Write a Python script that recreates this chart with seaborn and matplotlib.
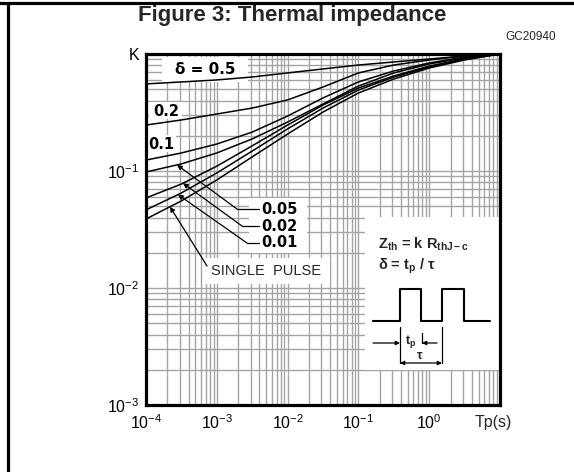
import numpy as np
import pandas as pd
import matplotlib
matplotlib.use("Agg")
import matplotlib.pyplot as plt
import seaborn as sns
from matplotlib.lines import Line2D
from matplotlib.patches import Rectangle, FancyArrowPatch

# ---- data ----
tp = [1e-4, 3.16e-4, 1e-3, 3.16e-3, 1e-2, 3.16e-2, 1e-1, 3.16e-1, 1.0, 3.16, 10.0]
k_d050 = [0.555, 0.577, 0.600, 0.636, 0.689, 0.745, 0.805, 0.855, 0.906, 0.962, 1.0]
k_d020 = [0.247, 0.273, 0.307, 0.345, 0.405, 0.522, 0.689, 0.805, 0.889, 0.962, 1.0]
k_d010 = [0.124, 0.1426, 0.170, 0.215, 0.295, 0.421, 0.577, 0.716, 0.838, 0.942, 1.0]
k_d005 = [0.098, 0.115, 0.1426, 0.188, 0.262, 0.374, 0.532, 0.689, 0.822, 0.925, 1.0]
k_d002 = [0.0588, 0.0774, 0.110, 0.164, 0.247, 0.366, 0.512, 0.649, 0.789, 0.906, 1.0]
k_d001 = [0.0465, 0.0649, 0.0962, 0.148, 0.229, 0.345, 0.492, 0.635, 0.774, 0.906, 1.0]
k_single = [0.0389, 0.0555, 0.0838, 0.132, 0.207, 0.319, 0.464, 0.611, 0.759, 0.889, 1.0]

series_names = ["0.5", "0.2", "0.1", "0.05", "0.02", "0.01", "single"]
series_vals = [k_d050, k_d020, k_d010, k_d005, k_d002, k_d001, k_single]

x_ticks = [1e-4, 1e-3, 1e-2, 1e-1, 1e0]
x_ticklabels = [r"$\mathdefault{10^{-4}}$", r"$\mathdefault{10^{-3}}$", r"$\mathdefault{10^{-2}}$",
                r"$\mathdefault{10^{-1}}$", r"$\mathdefault{10^{0}}$"]
y_ticks = [1e-3, 1e-2, 1e-1, 1e0]
y_ticklabels = [r"$\mathdefault{10^{-3}}$", r"$\mathdefault{10^{-2}}$", r"$\mathdefault{10^{-1}}$", "K"]

df = pd.DataFrame({
    "tp": np.tile(tp, len(series_names)),
    "k": np.concatenate(series_vals),
    "delta": np.repeat(series_names, len(tp)),
})

sns.set_theme(style="white")
plt.rcParams['font.family'] = ['Liberation Sans', 'DejaVu Sans']
plt.rcParams['mathtext.fontset'] = 'custom'
plt.rcParams['mathtext.rm'] = 'Liberation Sans'
plt.rcParams['mathtext.it'] = 'Liberation Sans:italic'
plt.rcParams['mathtext.bf'] = 'Liberation Sans:bold'

W, H = 574, 472
fig = plt.figure(figsize=(W / 100, H / 100), dpi=100)
fig.patch.set_facecolor("white")

def FX(px):
    return px / W

def FY(py):
    return 1 - py / H

ax = fig.add_axes([FX(146), FY(405), (500 - 146) / W, (405 - 54) / H])
sns.lineplot(data=df, x="tp", y="k", units="delta", estimator=None, color="black",
             lw=1.1, ax=ax, legend=False, zorder=3)
ax.set_xscale("log")
ax.set_yscale("log")
ax.set_xlim(1e-4, 10)
ax.set_ylim(1e-3, 1)
ax.set_xlabel("")
ax.set_ylabel("")
ax.grid(which="both", color="#a4a4a4", lw=1.0)
ax.set_axisbelow(True)
for s in ax.spines.values():
    s.set_color("black")
    s.set_linewidth(2.3)
    s.set_zorder(6)
ax.set_xticks(x_ticks)
ax.set_xticklabels(x_ticklabels)
ax.set_yticks(y_ticks)
ax.set_yticklabels(y_ticklabels)
ax.tick_params(which="both", length=0, labelsize=11.5, colors="black")
ax.tick_params(axis="x", pad=6)
ax.tick_params(axis="y", pad=5)

TF = fig.transFigure

def ftext(px, py, s, **kw):
    return ax.text(FX(px), FY(py), s, transform=TF, clip_on=False, **kw)

def fline(pxs, pys, lw=0.9, z=5):
    ax.add_line(Line2D([FX(p) for p in pxs], [FY(p) for p in pys], transform=TF,
                       color="black", lw=lw, zorder=z, clip_on=False))

def frect(x0, y0, x1, y1):
    ax.add_patch(Rectangle((FX(x0), FY(y1)), (x1 - x0) / W, (y1 - y0) / H, transform=TF,
                           facecolor="white", edgecolor="none", zorder=2, clip_on=False))

ftext(493, 422, "Tp(s)", fontsize=11.5, ha="center", va="center")

# title and code
fig.text(FX(292), FY(15), "Figure 3: Thermal impedance", fontsize=16, fontweight="bold",
         ha="center", va="center")
fig.text(FX(531), FY(37), "GC20940", fontsize=8.5, ha="center", va="center")

# outer frame
fig.add_artist(Line2D([0, 1], [FY(3), FY(3)], transform=TF, color="black", lw=2.3))
fig.add_artist(Line2D([FX(8), FX(8)], [0, FY(3)], transform=TF, color="black", lw=2.3))

# white boxes hiding the grid
frect(162, 57, 248, 82)
frect(149, 102, 182, 119)
frect(148, 135, 176, 152)
frect(249, 198, 307, 253)
frect(203, 258, 330, 284)
frect(365, 217, 500, 370)

lab_font = dict(family="DejaVu Sans", fontweight="bold", color="black", zorder=5)
ftext(205, 70, "δ = 0.5", fontsize=11, ha="center", va="center", **lab_font)
ftext(166, 111, "0.2", fontsize=10.5, ha="center", va="center", **lab_font)
ftext(161, 144, "0.1", fontsize=10.5, ha="center", va="center", **lab_font)

def curve_at(vals, x):
    return 10 ** np.interp(np.log10(x), np.log10(tp), np.log10(vals))

arrow_specs = [
    ("0.05", k_d005, 2.74e-4, 209, 237),
    ("0.02", k_d002, 3.33e-4, 226, 242),
    ("0.01", k_d001, 2.83e-4, 243, 247),
]
for lab, vals, xt, py, pxk in arrow_specs:
    ftext(261, py, lab, fontsize=10.5, ha="left", va="center", **lab_font)
    fline([pxk, 259], [py, py])
    ax.annotate("", xy=(xt, curve_at(vals, xt)), xycoords="data",
                xytext=(FX(pxk), FY(py)), textcoords="figure fraction",
                arrowprops=dict(arrowstyle="-|>", color="black", lw=0.9,
                                mutation_scale=7, shrinkA=0, shrinkB=0), zorder=5)

ftext(266, 271, "SINGLE  PULSE", fontsize=10.5, ha="center", va="center", zorder=5)
xs = 2.18e-4
ax.annotate("", xy=(xs, curve_at(k_single, xs)), xycoords="data",
            xytext=(FX(207), FY(266)), textcoords="figure fraction",
            arrowprops=dict(arrowstyle="-|>", color="black", lw=0.9,
                            mutation_scale=7, shrinkA=0, shrinkB=0), zorder=5)

# formula box
ftext(378, 244, r"$\mathbf{Z_{th}}$ = k R$_{\mathbf{thJ-c}}$", fontsize=10.5,
      fontweight="bold", ha="left", va="center", zorder=5)
ftext(378, 266, r"δ = t$_{\mathbf{p}}$ / τ", fontsize=10.5, fontweight="bold",
      ha="left", va="center", zorder=5)

fline([373, 400, 400, 421, 421, 442, 442, 464, 464, 490],
      [321, 321, 289, 289, 321, 321, 289, 289, 321, 321], lw=1.5)
fline([400, 400], [327, 363])
fline([442, 442], [327, 363])
fline([422, 422], [333, 343])

def farrow(p0, p1, style="-|>"):
    ax.add_patch(FancyArrowPatch((FX(p0[0]), FY(p0[1])), (FX(p1[0]), FY(p1[1])), transform=TF,
                                 arrowstyle=style, color="black", lw=0.9, mutation_scale=6,
                                 shrinkA=0, shrinkB=0, zorder=5, clip_on=False))

farrow((373, 343), (400, 343))
farrow((437, 343), (422, 343))
farrow((400, 363), (442, 363), style="<|-|>")
ftext(411, 341, r"t$_{\mathbf{p}}$", fontsize=9, fontweight="bold", ha="center", va="center", zorder=5)
ftext(420, 356, "τ", fontsize=9, fontweight="bold", ha="center", va="center", zorder=5)

fig.savefig("out.png", dpi=100, facecolor="white")
